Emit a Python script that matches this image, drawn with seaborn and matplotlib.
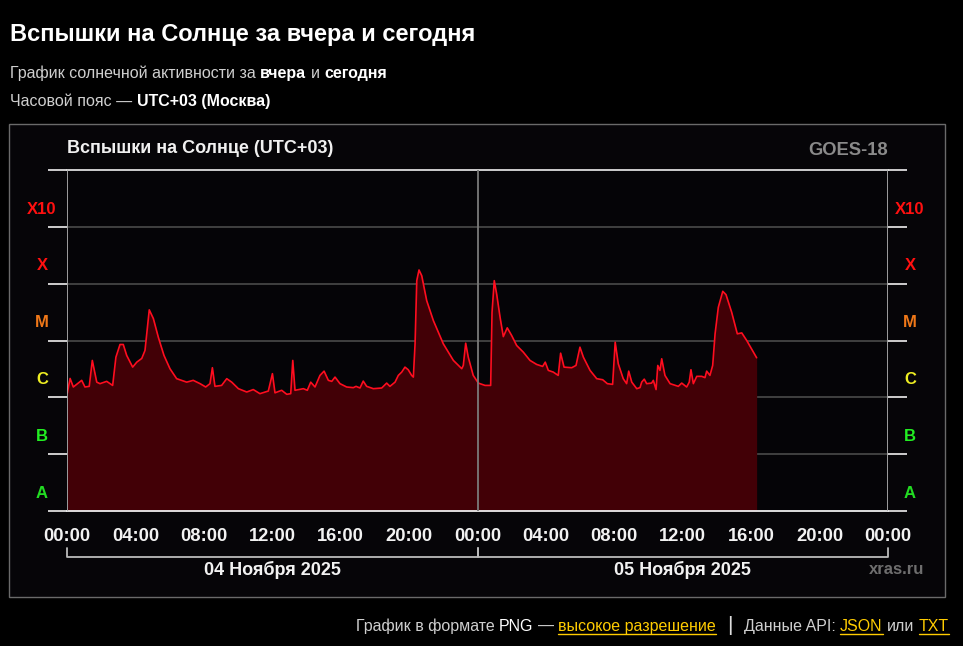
import matplotlib
matplotlib.use("Agg")
import matplotlib.pyplot as plt
import matplotlib.transforms as mtransforms
from matplotlib.lines import Line2D
import seaborn as sns
import pandas as pd

# hours since 04 Nov 2025 00:00 (UTC+03) and GOES-18 X-ray flux, W/m^2
hours = [0.02, 0.18, 0.37, 0.86, 1.05, 1.30, 1.48, 1.74, 1.93, 2.32, 2.67, 2.86, 3.10, 3.29,
         3.49, 3.84, 4.08, 4.37, 4.56, 4.81, 5.05, 5.34, 5.67, 6.02, 6.41, 7.00, 7.38, 7.78,
         8.11, 8.36, 8.50, 8.65, 9.04, 9.34, 9.63, 10.02, 10.51, 10.89, 11.28, 11.77, 12.01,
         12.16, 12.55, 12.85, 13.08, 13.20, 13.33, 13.82, 14.05, 14.25, 14.50, 14.79, 15.03,
         15.28, 15.48, 15.67, 15.96, 16.35, 16.74, 16.90, 17.13, 17.32, 17.52, 17.91, 18.40,
         18.69, 18.88, 19.18, 19.37, 19.57, 19.76, 19.95, 20.15, 20.25, 20.35, 20.45, 20.58,
         20.74, 21.03, 21.42, 22.00, 22.59, 23.08, 23.17, 23.31, 23.46, 23.75, 24.05, 24.44,
         24.77, 24.85, 24.98, 25.12, 25.32, 25.51, 25.74, 26.00, 26.29, 26.68, 27.07, 27.46,
         27.81, 27.96, 28.14, 28.43, 28.72, 28.86, 29.06, 29.51, 29.76, 29.99, 30.19, 30.58,
         30.97, 31.32, 31.59, 31.90, 32.05, 32.23, 32.52, 32.72, 32.84, 33.02, 33.31, 33.50,
         33.60, 33.75, 33.89, 34.18, 34.28, 34.44, 34.54, 34.67, 34.77, 34.96, 35.26, 35.74,
         35.94, 36.23, 36.38, 36.48, 36.62, 36.82, 37.11, 37.30, 37.40, 37.59, 37.75, 37.89,
         38.08, 38.34, 38.53, 38.86, 39.19, 39.45, 39.74, 40.32]
flux = [1.19e-6, 2.15e-6, 1.52e-6, 1.99e-6, 1.52e-6, 1.56e-6, 4.46e-6, 1.85e-6, 1.74e-6,
        1.91e-6, 1.62e-6, 5.09e-6, 8.51e-6, 8.51e-6, 5.46e-6, 3.40e-6, 4.16e-6, 4.83e-6,
        6.68e-6, 3.46e-5, 2.43e-5, 1.14e-5, 5.46e-6, 3.19e-6, 2.13e-6, 1.85e-6, 1.99e-6,
        1.74e-6, 1.52e-6, 1.74e-6, 3.32e-6, 1.56e-6, 1.62e-6, 2.13e-6, 1.85e-6, 1.42e-6,
        1.24e-6, 1.37e-6, 1.16e-6, 1.29e-6, 2.61e-6, 1.20e-6, 1.33e-6, 1.13e-6, 1.16e-6,
        4.46e-6, 1.33e-6, 1.42e-6, 1.33e-6, 1.85e-6, 1.52e-6, 2.43e-6, 2.89e-6, 1.99e-6,
        1.91e-6, 2.27e-6, 1.74e-6, 1.52e-6, 1.48e-6, 1.56e-6, 1.46e-6, 1.93e-6, 1.56e-6,
        1.42e-6, 1.46e-6, 1.78e-6, 1.56e-6, 1.85e-6, 2.43e-6, 2.78e-6, 3.40e-6, 3.06e-6,
        2.43e-6, 2.27e-6, 8.75e-6, 1.13e-4, 1.74e-4, 1.38e-4, 5.03e-5, 2.24e-5, 8.75e-6,
        4.46e-6, 3.19e-6, 3.64e-6, 8.97e-6, 5.09e-6, 2.43e-6, 1.78e-6, 1.62e-6, 1.62e-6,
        3.14e-5, 1.13e-4, 6.59e-5, 2.56e-5, 1.17e-5, 1.67e-5, 1.22e-5, 8.17e-6, 6.23e-6,
        4.46e-6, 3.79e-6, 3.50e-6, 4.16e-6, 2.98e-6, 2.78e-6, 2.43e-6, 5.98e-6, 3.40e-6,
        3.32e-6, 3.64e-6, 7.63e-6, 5.09e-6, 2.98e-6, 2.13e-6, 2.04e-6, 1.74e-6, 1.69e-6,
        9.33e-6, 3.90e-6, 2.13e-6, 1.74e-6, 2.89e-6, 1.85e-6, 1.42e-6, 1.48e-6, 1.85e-6,
        2.09e-6, 1.74e-6, 1.78e-6, 1.99e-6, 1.37e-6, 3.64e-6, 2.98e-6, 4.77e-6, 2.43e-6,
        1.74e-6, 1.56e-6, 1.78e-6, 1.52e-6, 1.85e-6, 3.06e-6, 1.74e-6, 2.34e-6, 2.34e-6,
        2.22e-6, 2.89e-6, 2.43e-6, 3.64e-6, 1.31e-5, 3.84e-5, 7.33e-5, 6.41e-5, 3.14e-5,
        1.31e-5, 1.36e-5, 1.00e-5, 4.97e-6]

classes = ["A", "B", "C", "M", "X", "X10"]
class_floor = [1e-8, 1e-7, 1e-6, 1e-5, 1e-4, 1e-3]
class_colors = ["#22dd22", "#22ee22", "#eeee22", "#f07818", "#ff1010", "#ff1010"]
tick_labels = ["00:00", "04:00", "08:00", "12:00", "16:00", "20:00",
               "00:00", "04:00", "08:00", "12:00", "16:00", "20:00", "00:00"]
day_labels = ["04 Ноября 2025", "05 Ноября 2025"]

df = pd.DataFrame({"hour": hours, "flux": flux})

sns.set_style("dark")
plt.rcParams["font.family"] = ["Liberation Sans", "DejaVu Sans"]

W, H = 963, 646
fig = plt.figure(figsize=(W / 100, H / 100), dpi=100, facecolor="black")

def fx(px):
    return px / W

def fy(py):
    return 1 - py / H

# outer panel
panel = plt.Rectangle((fx(9), fy(597)), fx(945) - fx(9), fy(124) - fy(597),
                      transform=fig.transFigure, facecolor="#060508",
                      edgecolor="#6a6a6a", lw=1.0, zorder=-10)
fig.add_artist(panel)

ax = fig.add_axes([fx(67), fy(511), fx(888) - fx(67), fy(170) - fy(511)])
ax.set_facecolor("#050407")

ax.set_yscale("log")
ax.set_ylim(1e-8, 1e-2)
ax.set_xlim(0, 48)

for v in class_floor[1:]:
    ax.axhline(v, color="#4a4a4a", lw=1.2, zorder=1)

ax.fill_between(df["hour"], df["flux"], 1e-8, color="#420006", lw=0, zorder=2)
sns.lineplot(data=df, x="hour", y="flux", color="#ff0d1f", lw=1.2, ax=ax, zorder=3)

for xv, c in [(0, "#aaaaaa"), (24, "#7a7a7a"), (48, "#aaaaaa")]:
    ax.axvline(xv, color=c, lw=1.3, zorder=4)

for side in ["left", "right"]:
    ax.spines[side].set_visible(False)
ax.spines["top"].set_color("#dddddd")
ax.spines["bottom"].set_color("#eeeeee")
ax.spines["top"].set_linewidth(1.3)
ax.spines["bottom"].set_linewidth(1.3)
ax.grid(False)

# y ticks as outside marks on both sides
ax.set_yticks(class_floor + [1e-2])
ax.set_yticks([], minor=True)
ax.yaxis.set_ticks_position("both")
ax.tick_params(axis="y", which="major", direction="out", length=14, width=1.3,
               color="#dddddd", labelleft=False, labelright=False)

# x ticks
ax.set_xticks(range(0, 49, 4))
ax.set_xticks(range(0, 49, 1), minor=True)
ax.set_xticklabels(tick_labels)
ax.tick_params(axis="x", which="major", direction="out", length=8, width=1.2,
               color="#eeeeee", labelcolor="#f2f2f2", labelsize=13.2, pad=4)
ax.tick_params(axis="x", which="minor", direction="out", length=4, width=1.0,
               color="#dddddd")
for t in ax.get_xticklabels():
    t.set_fontweight("bold")
ax.set_xlabel("")
ax.set_ylabel("")

ylab = mtransforms.blended_transform_factory(ax.transAxes, ax.transData)
for name, lo, col in zip(classes, class_floor, class_colors):
    for xa in [-0.0305, 1.0268]:
        ax.text(xa, lo * 2.05, name, transform=ylab, ha="center", va="center",
                color=col, fontsize=12, fontweight="bold")

# day brackets
xlab = mtransforms.blended_transform_factory(ax.transData, ax.transAxes)
for i, lab in enumerate(day_labels):
    a, b = 24 * i, 24 * (i + 1)
    ax.plot([a, a, b, b], [-0.108, -0.135, -0.135, -0.108], color="#bbbbbb",
            lw=1.3, transform=xlab, clip_on=False)
    ax.text((a + b) / 2, -0.172, lab, transform=xlab, ha="center", va="center",
            color="#f2f2f2", fontsize=13, fontweight="bold")

ax.text(0, 1.064, "Вспышки на Солнце (UTC+03)", transform=ax.transAxes,
        ha="left", va="center", color="#f0f0f0", fontsize=13, fontweight="bold")
ax.text(1, 1.058, "GOES-18", transform=ax.transAxes, ha="right", va="center",
        color="#8a8a8a", fontsize=13.2, fontweight="bold")
ax.text(fx(924), fy(569), "xras.ru", transform=fig.transFigure, ha="right",
        va="center", color="#6e6e6e", fontsize=12, fontweight="bold")

# header
fig.text(fx(10), fy(35), "Вспышки на Солнце за вчера и сегодня", ha="left",
         va="center", color="white", fontsize=17, fontweight="bold")

renderer = fig.canvas.get_renderer()

def runs(parts, x0, y, size, align="left"):
    arts = []
    for txt, col, wt, gap, ul, fs in parts:
        t = fig.text(0, fy(y), txt, ha="left", va="baseline", color=col,
                     fontsize=fs or size, fontweight=wt)
        w = t.get_window_extent(renderer).width
        arts.append((t, w, gap, ul, col))
    total = sum(w + g for _, w, g, _, _ in arts)
    x = x0 - total if align == "right" else x0
    for t, w, gap, ul, col in arts:
        t.set_x(fx(x))
        if ul:
            fig.add_artist(Line2D([fx(x), fx(x + w)], [fy(y + 3), fy(y + 3)],
                                  transform=fig.transFigure, color=col, lw=1))
        x += w + gap

sp = 4.5
runs([("График солнечной активности за", "#cfcfcf", "normal", sp, False, None),
      ("вчера", "white", "bold", sp, False, None),
      ("и", "#cfcfcf", "normal", sp, False, None),
      ("сегодня", "white", "bold", 0, False, None)], 10, 78, 11.5)
runs([("Часовой пояс —", "#cfcfcf", "normal", sp, False, None),
      ("UTC+03 (Москва)", "white", "bold", 0, False, None)], 10, 106, 11.5)
runs([("График в формате", "#cfcfcf", "normal", sp, False, None),
      ("PNG", "white", "normal", sp, False, None),
      ("—", "#cfcfcf", "normal", sp, False, None),
      ("высокое разрешение", "#ffcc00", "normal", 11, True, None),
      ("|", "#dddddd", "normal", 11, False, 15),
      ("Данные API:", "#cfcfcf", "normal", sp, False, None),
      ("JSON", "#ffcc00", "normal", sp, True, None),
      ("или", "#cfcfcf", "normal", sp, False, None),
      ("TXT", "#ffcc00", "normal", 0, True, None)], 949, 631, 11.5, align="right")

fig.savefig("out.png", dpi=100, facecolor="black")
